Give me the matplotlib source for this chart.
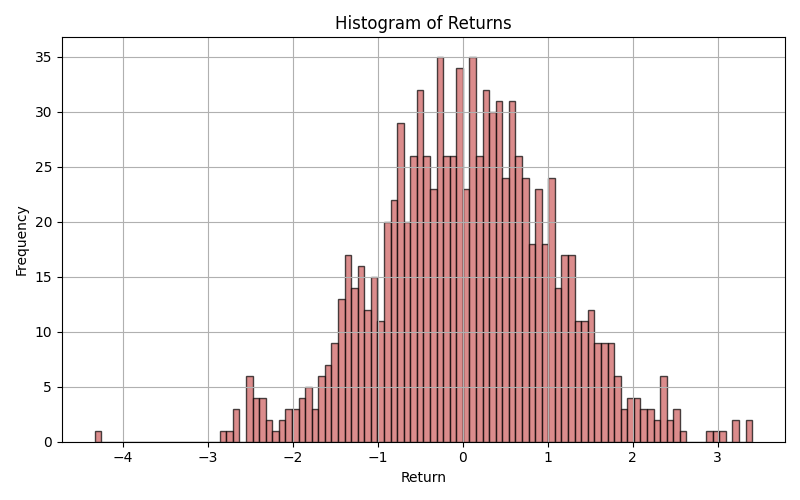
import numpy as np
import matplotlib
matplotlib.use("Agg")
import matplotlib.pyplot as plt

# Histogram counts (100 equal-width bins)
counts = [1] + [0]*18 + [
    1, 1, 3, 0, 6, 4, 4, 2, 1, 2, 3, 3, 4, 5, 3, 6, 7, 9, 13, 17, 14, 16, 12, 15, 11,
    20, 22, 29, 20, 26, 32, 26, 23, 35, 26, 26, 34, 23, 35, 26, 32, 30, 31, 24, 31, 26,
    24, 18, 23, 18, 24, 14, 17, 17, 11, 11, 12, 9, 9, 9, 6, 3, 4, 4, 3, 3, 2, 6, 2, 3, 1,
    0, 0, 0, 1, 1, 1, 0, 2, 0, 2]
data_min = -4.329
data_max = 3.405
n_bins = 100

edges = np.linspace(data_min, data_max, n_bins + 1)
centers = (edges[:-1] + edges[1:]) / 2

fig, ax = plt.subplots(figsize=(8, 5), dpi=100)
ax.hist(centers, bins=edges, weights=counts, color='indianred', alpha=0.7, edgecolor='black')
ax.set_title('Histogram of Returns')
ax.set_xlabel('Return')
ax.set_ylabel('Frequency')
ax.grid(True)
fig.tight_layout()
fig.savefig('out.png')
